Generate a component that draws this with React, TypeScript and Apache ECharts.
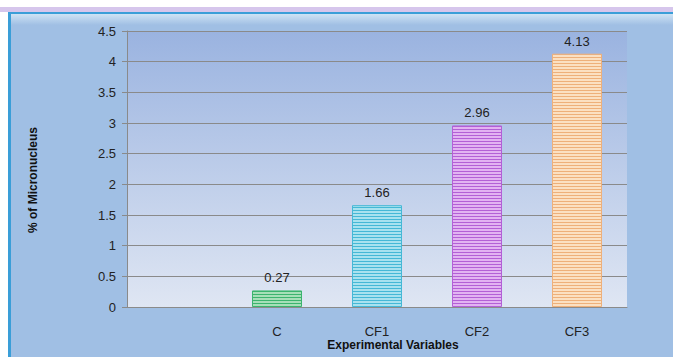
import React, { useEffect, useRef } from "react";
import * as echarts from "echarts";

const categories = ["", "C", "CF1", "CF2", "CF3"];
const values: (number | string)[] = ["-", 0.27, 1.66, 2.96, 4.13];
const lineColors = ["#000000", "#3cb46e", "#45b8d6", "#b360d6", "#eeb07a"];
const fillColors = ["#ffffff", "#a6dfb8", "#a8e2ef", "#e2b3f2", "#fbe0c2"];
const yTicks = { min: 0, max: 4.5, interval: 0.5 };
const xTitle = "Experimental Variables";
const yTitle = "% of Micronucleus";

function stripe(line: string, fill: string) {
  const c = document.createElement("canvas");
  c.width = 4;
  c.height = 3;
  const ctx = c.getContext("2d")!;
  ctx.fillStyle = fill;
  ctx.fillRect(0, 0, 4, 3);
  ctx.fillStyle = line;
  ctx.fillRect(0, 0, 4, 1);
  return { image: c.toDataURL(), repeat: "repeat", imageWidth: 4, imageHeight: 3 };
}

export default function App() {
  const ref = useRef<HTMLDivElement>(null);
  useEffect(() => {
    const chart = echarts.init(ref.current!, null, { renderer: "svg" });
    const font = "'Liberation Sans', Arial, sans-serif";
    const data = values.map((v, i) =>
      v === "-"
        ? "-"
        : {
            value: v,
            itemStyle: {
              color: stripe(lineColors[i], fillColors[i]) as any,
              borderColor: lineColors[i],
              borderWidth: 1,
            },
          }
    );
    chart.setOption({
      animation: false,
      backgroundColor: "#ffffff",
      graphic: [
        { type: "rect", z: -10, shape: { x: 0, y: 7, width: 673, height: 5 }, style: { fill: "#d6c6ec" } },
        { type: "rect", z: -10, shape: { x: 8, y: 12, width: 665, height: 345 }, style: { fill: "#a0bfe4" } },
        {
          type: "rect",
          z: -9,
          shape: { x: 10, y: 13, width: 663, height: 12 },
          style: {
            fill: new echarts.graphic.LinearGradient(0, 0, 0, 1, [
              { offset: 0, color: "#d2e6f6" },
              { offset: 1, color: "#a0bfe4" },
            ]),
          },
        },
        { type: "rect", z: -8, shape: { x: 8, y: 12, width: 665, height: 2 }, style: { fill: "#3a9ed8" } },
        { type: "rect", z: -8, shape: { x: 8, y: 12, width: 3, height: 345 }, style: { fill: "#3a9ed8" } },
        {
          type: "text",
          x: 393,
          y: 345,
          style: {
            text: xTitle,
            font: `bold 12px ${font}`,
            fill: "#111",
            align: "center",
            verticalAlign: "middle",
          },
        },
        {
          type: "text",
          x: 33,
          y: 180,
          rotation: Math.PI / 2,
          style: {
            text: yTitle,
            font: `bold 12px ${font}`,
            fill: "#111",
            align: "center",
            verticalAlign: "middle",
          },
        },
      ],
      grid: {
        left: 127,
        top: 31,
        width: 500,
        height: 276,
        show: true,
        borderWidth: 0,
        backgroundColor: new echarts.graphic.LinearGradient(0, 0, 0, 1, [
          { offset: 0, color: "#9ab3e0" },
          { offset: 1, color: "#dfe6f3" },
        ]),
      },
      xAxis: {
        type: "category",
        data: categories,
        axisLine: { lineStyle: { color: "#8a8a8a", width: 1 } },
        axisTick: { show: false },
        axisLabel: { color: "#222", fontSize: 13, fontFamily: font, margin: 18 },
      },
      yAxis: {
        type: "value",
        min: yTicks.min,
        max: yTicks.max,
        interval: yTicks.interval,
        axisLine: { show: true, lineStyle: { color: "#8a8a8a", width: 1 } },
        axisTick: { show: true, length: 5, lineStyle: { color: "#8a8a8a" } },
        splitLine: { lineStyle: { color: "#8a8a8a", width: 1 } },
        axisLabel: { color: "#222", fontSize: 13, fontFamily: font, margin: 11 },
      },
      series: [
        {
          type: "bar",
          data,
          barWidth: 50,
          label: {
            show: true,
            position: "top",
            distance: 6,
            color: "#222",
            fontSize: 13,
            fontFamily: font,
          },
        },
      ],
    });
    return () => chart.dispose();
  }, []);
  return (
    <div
      ref={ref}
      style={{ position: "fixed", left: 0, top: 0, width: 673, height: 359 }}
    />
  );
}
